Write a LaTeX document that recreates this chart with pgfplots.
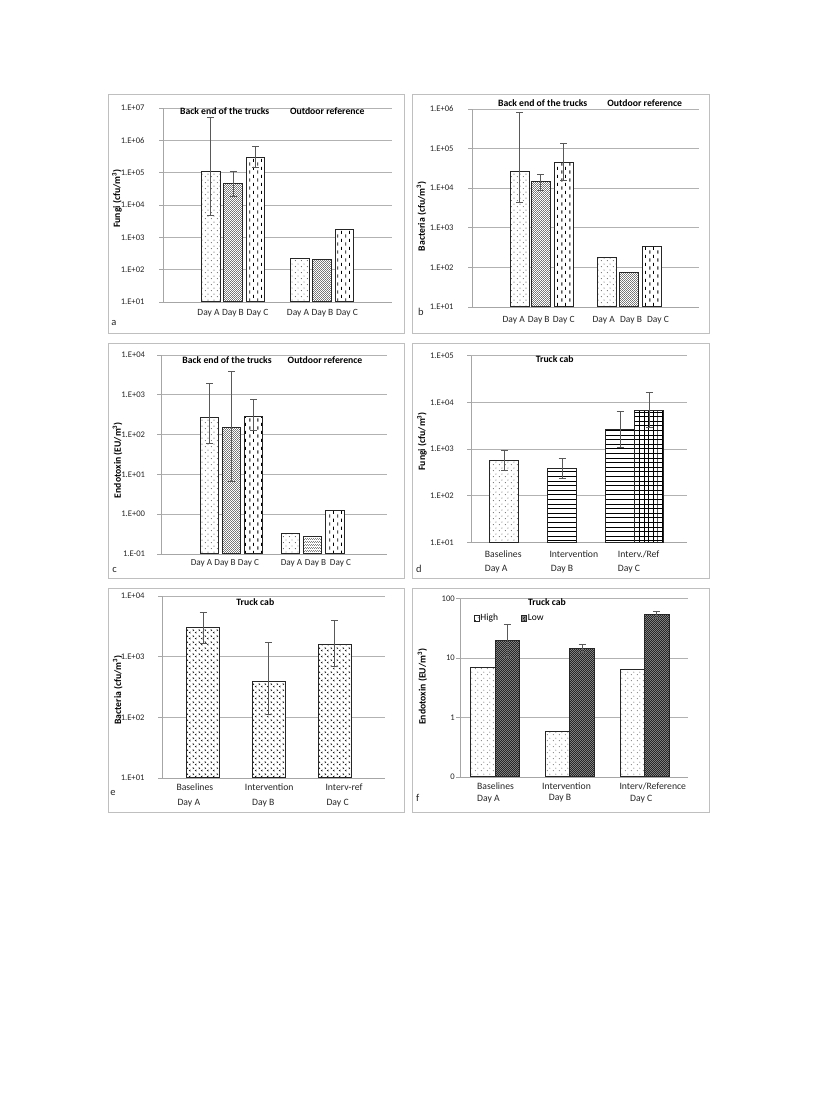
\documentclass[border=0pt]{standalone}
\usepackage{fontspec}
\setmainfont{Carlito}
\usepackage{pgfplots}
\pgfplotsset{compat=1.18}
\usetikzlibrary{patterns}

\pgfdeclarepatternformonly{sdots}{\pgfqpoint{0pt}{0pt}}{\pgfqpoint{6pt}{6pt}}{\pgfqpoint{6pt}{6pt}}{%
 \pgfpathcircle{\pgfqpoint{1.5pt}{1.5pt}}{0.5pt}%
 \pgfpathcircle{\pgfqpoint{4.5pt}{4.5pt}}{0.5pt}%
 \pgfusepath{fill}}
\pgfdeclarepatternformonly{ddots}{\pgfqpoint{0pt}{0pt}}{\pgfqpoint{2.4pt}{2.4pt}}{\pgfqpoint{2.4pt}{2.4pt}}{%
 \pgfpathcircle{\pgfqpoint{0.6pt}{0.6pt}}{0.55pt}%
 \pgfpathcircle{\pgfqpoint{1.8pt}{1.8pt}}{0.55pt}%
 \pgfusepath{fill}}
\pgfdeclarepatternformonly{vdash}{\pgfqpoint{0pt}{0pt}}{\pgfqpoint{8pt}{8pt}}{\pgfqpoint{8pt}{8pt}}{%
 \pgfsetlinewidth{0.9pt}%
 \pgfpathmoveto{\pgfqpoint{2pt}{0.5pt}}\pgfpathlineto{\pgfqpoint{2pt}{4pt}}%
 \pgfpathmoveto{\pgfqpoint{6pt}{4.5pt}}\pgfpathlineto{\pgfqpoint{6pt}{8pt}}%
 \pgfusepath{stroke}}
\pgfdeclarepatternformonly{hlines}{\pgfqpoint{0pt}{-0.5pt}}{\pgfqpoint{4pt}{0.5pt}}{\pgfqpoint{4pt}{4.6pt}}{%
 \pgfsetlinewidth{0.8pt}%
 \pgfpathmoveto{\pgfqpoint{0pt}{0pt}}\pgfpathlineto{\pgfqpoint{4.1pt}{0pt}}%
 \pgfusepath{stroke}}
\pgfdeclarepatternformonly{gridp}{\pgfqpoint{-0.5pt}{-0.5pt}}{\pgfqpoint{4.6pt}{4.6pt}}{\pgfqpoint{4.6pt}{4.6pt}}{%
 \pgfsetlinewidth{0.8pt}%
 \pgfpathmoveto{\pgfqpoint{0pt}{-0.5pt}}\pgfpathlineto{\pgfqpoint{0pt}{4.7pt}}%
 \pgfpathmoveto{\pgfqpoint{-0.5pt}{0pt}}\pgfpathlineto{\pgfqpoint{4.7pt}{0pt}}%
 \pgfusepath{stroke}}
\pgfdeclarepatternformonly{chev}{\pgfqpoint{0pt}{0pt}}{\pgfqpoint{6pt}{6pt}}{\pgfqpoint{6pt}{6pt}}{%
 \pgfsetlinewidth{0.5pt}%
 \pgfpathmoveto{\pgfqpoint{0.8pt}{5.3pt}}\pgfpathlineto{\pgfqpoint{2.2pt}{4.4pt}}\pgfpathlineto{\pgfqpoint{0.8pt}{3.5pt}}%
 \pgfpathmoveto{\pgfqpoint{5.2pt}{2.6pt}}\pgfpathlineto{\pgfqpoint{3.8pt}{1.7pt}}\pgfpathlineto{\pgfqpoint{5.2pt}{0.8pt}}%
 \pgfusepath{stroke}}
\pgfdeclarepatternformonly{checker}{\pgfqpoint{0pt}{0pt}}{\pgfqpoint{2.4pt}{2.4pt}}{\pgfqpoint{2.4pt}{2.4pt}}{%
 \pgfpathrectangle{\pgfqpoint{0pt}{0pt}}{\pgfqpoint{1.2pt}{1.2pt}}%
 \pgfpathrectangle{\pgfqpoint{1.2pt}{1.2pt}}{\pgfqpoint{1.2pt}{1.2pt}}%
 \pgfusepath{fill}}

\pgfplotsset{myleg/.style={legend image code/.code={\draw[##1, line width=0.6pt] (0pt,-2.6pt) rectangle (5.2pt,2.6pt);}}}

\newcommand{\tfont}{\bfseries\fontsize{9.7}{11}\selectfont}
\newcommand{\yfont}{\fontsize{8.6}{10}\selectfont}
\newcommand{\xfont}{\fontsize{9.5}{11}\selectfont}

\begin{document}
\begin{tikzpicture}
\useasboundingbox (0pt,0pt) rectangle (827pt,1102pt);

% ---------------- a ----------------
\begin{axis}[scale only axis, anchor=south west, clip=false,
  ymode=log, log origin=infty,
  axis x line*=bottom, axis y line*=left,
  axis line style={black!35, line width=0.8pt},
  ymajorgrids, grid style={black!30, line width=0.8pt}, yminorticks=false,
  tick align=outside, major tick length=4pt,
  xtick style={draw=none}, ytick style={draw=black!35, line width=0.8pt},
  at={(163pt,800pt)}, width=229pt, height=194pt,
  xmin=163, xmax=392, ymin=1e1, ymax=1e7,
  ytick={1e1,1e2,1e3,1e4,1e5,1e6,1e7},
  yticklabels={1.E+01,1.E+02,1.E+03,1.E+04,1.E+05,1.E+06,1.E+07},
  yticklabel style={font=\yfont, text=black!85, anchor=east, inner sep=0pt, xshift=-14.3pt},
  xtick={208.5,233,257.5,298,322.5,347},
  xticklabels={Day A,Day B,Day C,Day A,Day B,Day C},
  xticklabel style={font=\xfont, text=black!85, inner sep=0pt, anchor=base, yshift=-10pt},
  ylabel={Fungi (cfu/m\textsuperscript{3})},
  ylabel style={font=\tfont, anchor=center, at={(axis description cs:-0.2009,0.5335)}}]
\addplot[ybar, bar shift=0pt, draw=black!85, line width=1pt, fill=white, bar width=18.7, postaction={pattern=sdots},
  error bars/y dir=both, error bars/y explicit, error bars/error bar style={black!65, line width=0.7pt},
  error bars/error mark options={rotate=90, black!65, line width=0.7pt, mark size=3.5pt}]
  coordinates {(210.7,1.07e5) += (0,4.893e6) -= (0,1.021e5)};
\addplot[ybar, bar shift=0pt, draw=black!85, line width=1pt, fill=white, bar width=18.7, postaction={pattern=ddots, pattern color=black!75},
  error bars/y dir=both, error bars/y explicit, error bars/error bar style={black!65, line width=0.7pt},
  error bars/error mark options={rotate=90, black!65, line width=0.7pt, mark size=3.5pt}]
  coordinates {(233.2,4.7e4) += (0,6.0e4) -= (0,2.8e4)};
\addplot[ybar, bar shift=0pt, draw=black!85, line width=1pt, fill=white, bar width=18.7, postaction={pattern=vdash},
  error bars/y dir=both, error bars/y explicit, error bars/error bar style={black!65, line width=0.7pt},
  error bars/error mark options={rotate=90, black!65, line width=0.7pt, mark size=3.5pt}]
  coordinates {(255.5,3.0e5) += (0,3.6e5) -= (0,1.5e5)};
\addplot[ybar, bar shift=0pt, draw=black!85, line width=1pt, fill=white, bar width=18.7, postaction={pattern=sdots}] coordinates {(300.2,220)};
\addplot[ybar, bar shift=0pt, draw=black!85, line width=1pt, fill=white, bar width=18.7, postaction={pattern=ddots, pattern color=black!75}] coordinates {(322.3,210)};
\addplot[ybar, bar shift=0pt, draw=black!85, line width=1pt, fill=white, bar width=18.7, postaction={pattern=vdash}] coordinates {(344.5,1730)};
\node[font=\tfont] at (axis description cs:0.2694,0.9845) {Back end of the trucks};
\node[font=\tfont] at (axis description cs:0.7175,0.9845) {Outdoor reference};
\end{axis}

% ---------------- b ----------------
\begin{axis}[scale only axis, anchor=south west, clip=false,
  ymode=log, log origin=infty,
  axis x line*=bottom, axis y line*=left,
  axis line style={black!35, line width=0.8pt},
  ymajorgrids, grid style={black!30, line width=0.8pt}, yminorticks=false,
  tick align=outside, major tick length=4pt,
  xtick style={draw=none}, ytick style={draw=black!35, line width=0.8pt},
  at={(472pt,795pt)}, width=227pt, height=198pt,
  xmin=472, xmax=699, ymin=1e1, ymax=1e6,
  ytick={1e1,1e2,1e3,1e4,1e5,1e6},
  yticklabels={1.E+01,1.E+02,1.E+03,1.E+04,1.E+05,1.E+06},
  yticklabel style={font=\yfont, text=black!85, anchor=east, inner sep=0pt, xshift=-14.3pt},
  xtick={513.7,538.7,563.7,603.7,631,658},
  xticklabels={Day A,Day B,Day C,Day A,Day B,Day C},
  xticklabel style={font=\xfont, text=black!85, inner sep=0pt, anchor=base, yshift=-12pt},
  ylabel={Bacteria (cfu/m\textsuperscript{3})},
  ylabel style={font=\tfont, anchor=center, at={(axis description cs:-0.2225,0.458)}}]
\addplot[ybar, bar shift=0pt, draw=black!85, line width=1pt, fill=white, bar width=19, postaction={pattern=sdots},
  error bars/y dir=both, error bars/y explicit, error bars/error bar style={black!65, line width=0.7pt},
  error bars/error mark options={rotate=90, black!65, line width=0.7pt, mark size=3.5pt}]
  coordinates {(519.5,2.6e4) += (0,7.94e5) -= (0,2.15e4)};
\addplot[ybar, bar shift=0pt, draw=black!85, line width=1pt, fill=white, bar width=19, postaction={pattern=ddots, pattern color=black!75},
  error bars/y dir=both, error bars/y explicit, error bars/error bar style={black!65, line width=0.7pt},
  error bars/error mark options={rotate=90, black!65, line width=0.7pt, mark size=3.5pt}]
  coordinates {(540.8,1.45e4) += (0,8.0e3) -= (0,5.8e3)};
\addplot[ybar, bar shift=0pt, draw=black!85, line width=1pt, fill=white, bar width=19, postaction={pattern=vdash},
  error bars/y dir=both, error bars/y explicit, error bars/error bar style={black!65, line width=0.7pt},
  error bars/error mark options={rotate=90, black!65, line width=0.7pt, mark size=3.5pt}]
  coordinates {(563.5,4.5e4) += (0,8.9e4) -= (0,2.9e4)};
\addplot[ybar, bar shift=0pt, draw=black!85, line width=1pt, fill=white, bar width=19, postaction={pattern=sdots}] coordinates {(607.2,175)};
\addplot[ybar, bar shift=0pt, draw=black!85, line width=1pt, fill=white, bar width=19, postaction={pattern=ddots, pattern color=black!75}] coordinates {(629.3,76)};
\addplot[ybar, bar shift=0pt, draw=black!85, line width=1pt, fill=white, bar width=19, postaction={pattern=vdash}] coordinates {(651.7,340)};
\node[font=\tfont] at (axis description cs:0.3115,1.03) {Back end of the trucks};
\node[font=\tfont] at (axis description cs:0.7608,1.03) {Outdoor reference};
\end{axis}

% ---------------- c ----------------
\begin{axis}[scale only axis, anchor=south west, clip=false,
  ymode=log, log origin=infty,
  axis x line*=bottom, axis y line*=left,
  axis line style={black!35, line width=0.8pt},
  ymajorgrids, grid style={black!30, line width=0.8pt}, yminorticks=false,
  tick align=outside, major tick length=4pt,
  xtick style={draw=none}, ytick style={draw=black!35, line width=0.8pt},
  at={(161.3pt,548pt)}, width=226pt, height=199pt,
  xmin=161.3, xmax=387.3, ymin=1e-1, ymax=1e4,
  ytick={1e-1,1e0,1e1,1e2,1e3,1e4},
  yticklabels={1.E-01,1.E+00,1.E+01,1.E+02,1.E+03,1.E+04},
  yticklabel style={font=\yfont, text=black!85, anchor=east, inner sep=0pt, xshift=-12pt},
  xtick={201.5,225,248.5,291.5,315.5,340.5},
  xticklabels={Day A,Day B,Day C,Day A,Day B,Day C},
  xticklabel style={font=\fontsize{9.2}{11}\selectfont, text=black!85, inner sep=0pt, anchor=base, yshift=-7.3pt},
  ylabel={Endotoxin (EU/m\textsuperscript{3})},
  ylabel style={font=\tfont, anchor=center, at={(axis description cs:-0.194,0.472)}}]
\addplot[ybar, bar shift=0pt, draw=black!85, line width=1pt, fill=white, bar width=18.4, postaction={pattern=sdots},
  error bars/y dir=both, error bars/y explicit, error bars/error bar style={black!65, line width=0.7pt},
  error bars/error mark options={rotate=90, black!65, line width=0.7pt, mark size=3.5pt}]
  coordinates {(209.5,270) += (0,1690) -= (0,210)};
\addplot[ybar, bar shift=0pt, draw=black!85, line width=1pt, fill=white, bar width=18.4, postaction={pattern=ddots, pattern color=black!75},
  error bars/y dir=both, error bars/y explicit, error bars/error bar style={black!65, line width=0.7pt},
  error bars/error mark options={rotate=90, black!65, line width=0.7pt, mark size=3.5pt}]
  coordinates {(231.5,150) += (0,3750) -= (0,143.4)};
\addplot[ybar, bar shift=0pt, draw=black!85, line width=1pt, fill=white, bar width=18.4, postaction={pattern=vdash},
  error bars/y dir=both, error bars/y explicit, error bars/error bar style={black!65, line width=0.7pt},
  error bars/error mark options={rotate=90, black!65, line width=0.7pt, mark size=3.5pt}]
  coordinates {(253.5,290) += (0,490) -= (0,160)};
\addplot[ybar, bar shift=0pt, draw=black!85, line width=1pt, fill=white, bar width=18.4, postaction={pattern=sdots}] coordinates {(290.5,0.33)};
\addplot[ybar, bar shift=0pt, draw=black!85, line width=1pt, fill=white, bar width=18.4, postaction={pattern=ddots, pattern color=black!75}] coordinates {(312.5,0.28)};
\addplot[ybar, bar shift=0pt, draw=black!85, line width=1pt, fill=white, bar width=18.4, postaction={pattern=vdash}] coordinates {(335,1.22)};
\node[font=\tfont] at (axis description cs:0.2907,0.975) {Back end of the trucks};
\node[font=\tfont] at (axis description cs:0.7243,0.975) {Outdoor reference};
\end{axis}

% ---------------- d ----------------
\begin{axis}[scale only axis, anchor=south west, clip=false,
  ymode=log, log origin=infty,
  axis x line*=bottom, axis y line*=left,
  axis line style={black!35, line width=0.8pt},
  ymajorgrids, grid style={black!30, line width=0.8pt}, yminorticks=false,
  tick align=outside, major tick length=4pt,
  xtick style={draw=none}, ytick style={draw=black!35, line width=0.8pt},
  at={(471pt,559.7pt)}, width=216pt, height=186.6pt,
  xmin=471, xmax=687, ymin=1e1, ymax=1e5,
  ytick={1e1,1e2,1e3,1e4,1e5},
  yticklabels={1.E+01,1.E+02,1.E+03,1.E+04,1.E+05},
  yticklabel style={font=\yfont, text=black!85, anchor=east, inner sep=0pt, xshift=-13pt},
  xtick={484.7,549.3,617.7},
  xticklabels={{Baselines\\Day A},{Intervention\\\hspace*{1.4pt}Day B},{Interv./Ref\\Day C}},
  xticklabel style={text=black!85, inner sep=0pt, anchor=north west, align=left, font=\fontsize{9.7}{14.3}\selectfont, yshift=-4.4pt},
  ylabel={Fungi (cfu/m\textsuperscript{3})},
  ylabel style={font=\tfont, anchor=center, at={(axis description cs:-0.2269,0.541)}}]
\addplot[ybar, bar shift=0pt, draw=black!85, line width=1pt, fill=white, bar width=29, postaction={pattern=sdots},
  error bars/y dir=both, error bars/y explicit, error bars/error bar style={black!65, line width=0.7pt},
  error bars/error mark options={rotate=90, black!65, line width=0.7pt, mark size=3.5pt}]
  coordinates {(504.3,570) += (0,370) -= (0,220)};
\addplot[ybar, bar shift=0pt, draw=black!85, line width=1pt, fill=white, bar width=29, postaction={pattern=hlines},
  error bars/y dir=both, error bars/y explicit, error bars/error bar style={black!65, line width=0.7pt},
  error bars/error mark options={rotate=90, black!65, line width=0.7pt, mark size=3.5pt}]
  coordinates {(562.2,390) += (0,240) -= (0,150) (620.2,2600) += (0,3800) -= (0,1520)};
\addplot[ybar, bar shift=0pt, draw=black!85, line width=1pt, fill=white, bar width=29, postaction={pattern=gridp},
  error bars/y dir=both, error bars/y explicit, error bars/error bar style={black!65, line width=0.7pt},
  error bars/error mark options={rotate=90, black!65, line width=0.7pt, mark size=3.5pt}]
  coordinates {(649.2,6800) += (0,9200) -= (0,3900)};
\node[font=\tfont] at (axis description cs:0.3875,0.982) {Truck cab};
\end{axis}

% ---------------- e ----------------
\begin{axis}[scale only axis, anchor=south west, clip=false,
  ymode=log, log origin=infty,
  axis x line*=bottom, axis y line*=left,
  axis line style={black!35, line width=0.8pt},
  ymajorgrids, grid style={black!30, line width=0.8pt}, yminorticks=false,
  tick align=outside, major tick length=4pt,
  xtick style={draw=none}, ytick style={draw=black!35, line width=0.8pt},
  at={(162.3pt,324pt)}, width=223pt, height=182pt,
  xmin=162.3, xmax=385.3, ymin=1e1, ymax=1e4,
  ytick={1e1,1e2,1e3,1e4},
  yticklabels={1.E+01,1.E+02,1.E+03,1.E+04},
  yticklabel style={font=\yfont, text=black!85, anchor=east, inner sep=0pt, xshift=-13.6pt},
  xtick={176.3,244.7,325.3},
  xticklabels={{Baselines\\\hspace*{1pt}Day A},{Intervention\\\hspace*{7.3pt}Day B},{Interv-ref\\\hspace*{1pt}Day C}},
  xticklabel style={text=black!85, inner sep=0pt, anchor=north west, align=left, font=\fontsize{9.7}{15}\selectfont, yshift=-2pt},
  ylabel={Bacteria (cfu/m\textsuperscript{3})},
  ylabel style={font=\tfont, anchor=center, at={(axis description cs:-0.2,0.4835)}}]
\addplot[ybar, bar shift=0pt, draw=black!85, line width=1pt, fill=white, bar width=33, postaction={pattern=chev},
  error bars/y dir=both, error bars/y explicit, error bars/error bar style={black!65, line width=0.7pt},
  error bars/error mark options={rotate=90, black!65, line width=0.7pt, mark size=3.5pt}]
  coordinates {(203.2,3000) += (0,2400) -= (0,1340) (268.7,390) += (0,1330) -= (0,280) (334.7,1560) += (0,2340) -= (0,870)};
\node[font=\tfont] at (axis description cs:0.417,0.965) {Truck cab};
\end{axis}

% ---------------- f ----------------
\begin{axis}[scale only axis, anchor=south west, clip=false,
  ymode=log, log origin=infty,
  axis x line*=bottom, axis y line*=left,
  axis line style={black!35, line width=0.8pt},
  ymajorgrids, grid style={black!30, line width=0.8pt}, yminorticks=false,
  tick align=outside, major tick length=4pt,
  xtick style={draw=none}, ytick style={draw=black!35, line width=0.8pt},
  at={(460pt,325pt)}, width=228pt, height=178.3pt,
  xmin=460, xmax=688, ymin=1e-1, ymax=1e2,
  ytick={1e-1,1e0,1e1,1e2},
  yticklabels={0,1,10,100},
  yticklabel style={font=\yfont, text=black!85, anchor=east, inner sep=0pt, xshift=-1pt},
  xtick={477,542,619.3},
  xticklabels={{Baselines\\Day A},{Intervention\\\hspace*{6.7pt}Day B},{Interv/Reference\\\hspace*{10.7pt}Day C}},
  xticklabel style={text=black!85, inner sep=0pt, anchor=north west, align=left, font=\fontsize{9.7}{11.7}\selectfont, yshift=-1.4pt},
  ylabel={Endotoxin (EU/m\textsuperscript{3})},
  ylabel style={font=\tfont, anchor=center, at={(axis description cs:-0.165,0.506)}},
  legend style={at={(axis description cs:0.059,0.89)}, anchor=west, draw=none, fill=none,
    font=\xfont, inner sep=0pt, legend columns=2, nodes={inner sep=1pt},
    /tikz/every even column/.append style={column sep=22pt}},
  legend cell align=left]
\addplot[ybar, bar shift=0pt, draw=black!85, line width=1pt, fill=white, bar width=24.4, postaction={pattern=sdots}, myleg]
  coordinates {(482.8,7.0) (557.3,0.59) (632.2,6.4)};
\addlegendentry{High}
\addplot[ybar, bar shift=0pt, draw=black!85, line width=1pt, fill=black!45, bar width=24.4, postaction={pattern=checker, pattern color=black!85},
  error bars/y dir=both, error bars/y explicit, error bars/error bar style={black!65, line width=0.7pt},
  error bars/error mark options={rotate=90, black!65, line width=0.7pt, mark size=3.5pt}, myleg]
  coordinates {(507.3,19.6) += (0,17.4) -= (0,9.3) (582,14.6) += (0,2.2) -= (0,2.1) (656.8,53.7) += (0,7.3) -= (0,6.7)};
\addlegendentry{Low}
\node[font=\tfont] at (axis description cs:0.3816,0.98) {Truck cab};
\end{axis}

% frames and panel letters
\draw[black!25, line width=0.8pt] (108pt,1008pt) rectangle (404pt,769pt);
\draw[black!25, line width=0.8pt] (412pt,1008pt) rectangle (709pt,769pt);
\draw[black!25, line width=0.8pt] (108pt,759pt) rectangle (404pt,524pt);
\draw[black!25, line width=0.8pt] (412pt,759pt) rectangle (709pt,524pt);
\draw[black!25, line width=0.8pt] (108pt,514pt) rectangle (404pt,290pt);
\draw[black!25, line width=0.8pt] (412pt,514pt) rectangle (709pt,290pt);
\node[font=\fontsize{10.5}{12}\selectfont, text=black!85] at (114pt,779pt) {a};
\node[font=\fontsize{10.5}{12}\selectfont, text=black!85] at (421pt,790pt) {b};
\node[font=\fontsize{10.5}{12}\selectfont, text=black!85] at (114.7pt,532pt) {c};
\node[font=\fontsize{10.5}{12}\selectfont, text=black!85] at (419pt,533pt) {d};
\node[font=\fontsize{10.5}{12}\selectfont, text=black!85] at (113pt,309pt) {e};
\node[font=\fontsize{10.5}{12}\selectfont, text=black!85] at (417.7pt,304pt) {f};
\end{tikzpicture}
\end{document}
